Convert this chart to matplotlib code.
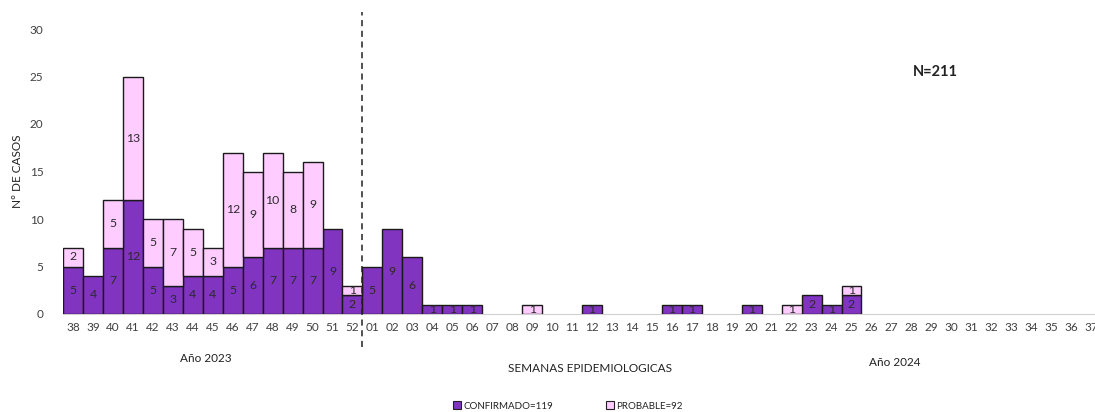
import matplotlib
matplotlib.use("Agg")
import matplotlib.pyplot as plt
from matplotlib.patches import Patch

weeks = [str(w) for w in range(38, 53)] + [f"{w:02d}" for w in range(1, 38)]
confirmado = [5, 4, 7, 12, 5, 3, 4, 4, 5, 6, 7, 7, 7, 9, 2,
              5, 9, 6, 1, 1, 1, 0, 0, 0, 0, 0, 1, 0, 0, 0, 1, 1, 0, 0, 1,
              0, 0, 2, 1, 2, 0, 0, 0, 0, 0, 0, 0, 0, 0, 0, 0, 0]
probable = [2, 0, 5, 13, 5, 7, 5, 3, 12, 9, 10, 8, 9, 0, 1,
            0, 0, 0, 0, 0, 0, 0, 0, 1, 0, 0, 0, 0, 0, 0, 0, 0, 0, 0, 0,
            0, 1, 0, 0, 1, 0, 0, 0, 0, 0, 0, 0, 0, 0, 0, 0, 0]
yticks = [0, 5, 10, 15, 20, 25, 30]

C_CONF = "#8134C0"
C_PROB = "#FFCCFF"
TXT = "#404040"
LBL = "#2a2a2a"
FONT = ["Lato", "DejaVu Sans"]
plt.rcParams['font.family'] = FONT

W, H = 1095, 412
fig = plt.figure(figsize=(W / 100, H / 100), dpi=100)
x0, x1 = 63, 1101
y0, ytop = 314, 29
ax = fig.add_axes([x0 / W, 1 - y0 / H, (x1 - x0) / W, (y0 - ytop) / H])

x = list(range(len(weeks)))
ax.bar(x, confirmado, width=1.0, color=C_CONF, edgecolor="#1a1a1a", linewidth=1.0, zorder=2)
ax.bar(x, probable, width=1.0, bottom=confirmado, color=C_PROB, edgecolor="#1a1a1a", linewidth=1.0, zorder=2)
for p in list(ax.patches):
    if p.get_height() == 0:
        p.remove()

for i in x:
    c, pr = confirmado[i], probable[i]
    if c > 0:
        ax.text(i, c / 2, str(c), ha="center", va="center", fontsize=8.8, color=LBL, zorder=3)
    if pr > 0:
        ax.text(i, c + pr / 2, str(pr), ha="center", va="center", fontsize=8.8, color=LBL, zorder=3)

ax.set_xlim(-0.5, len(weeks) - 0.5)
ax.set_ylim(0, 30)
ax.set_yticks(yticks)
ax.set_yticklabels([str(v) for v in yticks], fontsize=8.5, color=TXT)
ax.set_xticks(x)
ax.set_xticklabels(weeks, fontsize=8.5, color=TXT)
ax.tick_params(axis="both", length=0, pad=6)
ax.tick_params(axis="y", pad=14)
for s in ["top", "right", "left"]:
    ax.spines[s].set_visible(False)
ax.spines["bottom"].set_color("#d0d0d0")
ax.spines["bottom"].set_zorder(1)

ax.plot([14.5, 14.5], [-3.5, 31.8], linestyle=(0, (4, 3)), color="#222222", linewidth=1.1,
        clip_on=False, zorder=4)

ax.set_ylabel("N° DE CASOS", fontsize=8.5, color="#222222")
ax.yaxis.set_label_coords((23 - x0) / (x1 - x0), 0.5)

fig.text(206 / W, 1 - 358 / H, "Año 2023", ha="center", va="center", fontsize=8.5, color="#222222")
fig.text(590 / W, 1 - 368 / H, "SEMANAS EPIDEMIOLOGICAS", ha="center", va="center", fontsize=8.5, color="#222222")
fig.text(895 / W, 1 - 362 / H, "Año 2024", ha="center", va="center", fontsize=8.5, color="#222222")
fig.text(935 / W, 1 - 72 / H, "N=211", ha="center", va="center", fontsize=10.5, fontweight="bold", color="#222222")

handles = [Patch(facecolor=C_CONF, edgecolor="#222222", linewidth=0.8, label="CONFIRMADO=119"),
           Patch(facecolor=C_PROB, edgecolor="#222222", linewidth=0.8, label="PROBABLE=92")]
fig.legend(handles=handles, loc="center", bbox_to_anchor=(568 / W, 1 - 406 / H), ncol=2,
           frameon=False, fontsize=7, handlelength=0.8, handleheight=0.8, handletextpad=0.2,
           columnspacing=5.5, labelcolor="#222222")

fig.savefig("out.png", dpi=100)
